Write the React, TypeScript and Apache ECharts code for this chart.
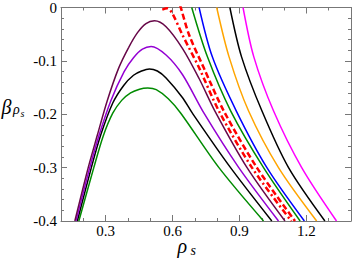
import React, { useEffect, useRef } from "react";
import * as echarts from "echarts";

// x-axis labelled ticks
const xLabelTicks = [0.3, 0.6, 0.9, 1.2];

// peaked curves (rho_s, beta)
const darkPurpleCurve = [[0.162,-0.4],[0.222,-0.300],[0.263,-0.239],[0.307,-0.175],[0.358,-0.114],[0.403,-0.075],[0.443,-0.047],[0.481,-0.030],[0.519,-0.025],[0.571,-0.036],[0.645,-0.077],[0.719,-0.133],[0.790,-0.194],[0.934,-0.300],[1.104,-0.4]];
const violetCurve = [[0.167,-0.4],[0.229,-0.300],[0.271,-0.239],[0.323,-0.175],[0.383,-0.120],[0.425,-0.094],[0.465,-0.078],[0.504,-0.073],[0.571,-0.089],[0.645,-0.126],[0.741,-0.198],[0.897,-0.300],[1.075,-0.4]];
const blackPeakCurve = [[0.173,-0.4],[0.236,-0.300],[0.278,-0.239],[0.332,-0.179],[0.381,-0.146],[0.425,-0.127],[0.461,-0.119],[0.496,-0.115],[0.532,-0.119],[0.571,-0.132],[0.645,-0.169],[0.689,-0.198],[0.860,-0.300],[1.045,-0.4]];
const greenPeakCurve = [[0.180,-0.4],[0.247,-0.300],[0.289,-0.241],[0.332,-0.198],[0.372,-0.174],[0.412,-0.160],[0.452,-0.153],[0.489,-0.151],[0.527,-0.154],[0.581,-0.171],[0.637,-0.198],[0.808,-0.300],[1.008,-0.4]];

// falling curves
const redDashDotCurve = [[0.554,-0.004],[0.576,-0.0015],[0.599,-0.011],[0.644,-0.051],[0.719,-0.113],[0.808,-0.194],[0.956,-0.300],[1.132,-0.4]];
const redDashedCurve = [[0.634,0.004],[0.637,0],[0.674,-0.051],[0.741,-0.114],[0.830,-0.194],[0.978,-0.300],[1.149,-0.4]];
const greenFallCurve = [[0.686,0],[0.756,-0.092],[0.861,-0.194],[1.008,-0.300],[1.172,-0.4]];
const blueCurve = [[0.719,0],[0.778,-0.092],[0.886,-0.194],[1.023,-0.300],[1.191,-0.4]];
const orangeCurve = [[0.798,0],[0.853,-0.092],[0.941,-0.194],[1.075,-0.300],[1.246,-0.4]];
const blackFallCurve = [[0.857,0],[0.909,-0.092],[1.001,-0.194],[1.120,-0.300],[1.283,-0.4]];
const magentaCurve = [[0.916,0],[0.964,-0.092],[1.053,-0.194],[1.179,-0.300],[1.335,-0.4]];

const AXIS_COLOR = "#777";
const FONT = "Liberation Serif";

export default function App() {
  const ref = useRef<HTMLDivElement>(null);
  useEffect(() => {
    const chart = echarts.init(ref.current!, null, { renderer: "svg" });
    const baseX = {
      type: "value",
      min: 0.1,
      max: 1.4,
      interval: 0.1,
      splitLine: { show: false },
    };
    const baseY = {
      type: "value",
      min: -0.4,
      max: 0,
      interval: 0.1,
      splitLine: { show: false },
      axisLine: { show: true, lineStyle: { color: AXIS_COLOR, width: 1 } },
      axisTick: { show: true, inside: true, length: 6, lineStyle: { color: AXIS_COLOR } },
      minorTick: { show: true, splitNumber: 5, length: 3, lineStyle: { color: AXIS_COLOR } },
    };
    const line = (data: number[][], color: string, width = 1.5, type: any = "solid") => ({
      type: "line",
      data,
      smooth: 0.3,
      symbol: "none",
      showSymbol: false,
      clip: true,
      lineStyle: { color, width, type },
      xAxisIndex: 0,
      yAxisIndex: 0,
    });
    const option: any = {
      animation: false,
      grid: { left: 61, right: 1, top: 6, bottom: 42, containLabel: false },
      xAxis: [
        {
          ...baseX,
          position: "bottom",
          axisLine: { show: true, onZero: false, lineStyle: { color: AXIS_COLOR, width: 1 } },
          axisTick: { show: true, inside: true, length: 3, lineStyle: { color: AXIS_COLOR } },
          axisLabel: {
            show: true,
            margin: 2,
            color: "#000",
            fontFamily: FONT,
            fontSize: 15,
            lineHeight: 15,
            formatter: (v: number) =>
              xLabelTicks.some((t) => Math.abs(t - v) < 1e-6) ? v.toFixed(1) : "",
          },
        },
        {
          ...baseX,
          position: "bottom",
          axisLine: { show: false, onZero: false },
          axisTick: { show: true, inside: true, length: 6, customValues: xLabelTicks, lineStyle: { color: AXIS_COLOR } },
          axisLabel: { show: false },
        },
        {
          ...baseX,
          position: "top",
          axisLine: { show: true, onZero: false, lineStyle: { color: AXIS_COLOR, width: 1 } },
          axisTick: { show: true, inside: true, length: 3, lineStyle: { color: AXIS_COLOR } },
          axisLabel: { show: false },
        },
        {
          ...baseX,
          position: "top",
          axisLine: { show: false, onZero: false },
          axisTick: { show: true, inside: true, length: 6, customValues: xLabelTicks, lineStyle: { color: AXIS_COLOR } },
          axisLabel: { show: false },
        },
      ],
      yAxis: [
        {
          ...baseY,
          position: "left",
          axisLabel: {
            show: true,
            margin: 4,
            color: "#000",
            fontFamily: FONT,
            fontSize: 15,
            formatter: (v: number) => (Math.abs(v) < 1e-9 ? "0" : v.toFixed(1)),
          },
        },
        {
          ...baseY,
          position: "right",
          axisLabel: { show: false },
        },
      ],
      graphic: [
        { type: "text", x: 1.5, y: 107.3, style: { text: "β", font: `italic 20px '${FONT}'`, lineHeight: 14, fill: "#000", verticalAlign: "middle" } },
        { type: "text", x: 13, y: 109.6, style: { text: "ρ", font: `italic 14px '${FONT}'`, lineHeight: 10, fill: "#000", verticalAlign: "middle" } },
        { type: "text", x: 20.5, y: 113.6, style: { text: "s", font: `italic 10px '${FONT}'`, lineHeight: 7, fill: "#000", verticalAlign: "middle" } },
        { type: "text", x: 177.5, y: 246, style: { text: "ρ", font: `italic 20px '${FONT}'`, lineHeight: 12, fill: "#000", verticalAlign: "middle" } },
        { type: "text", x: 190.5, y: 250.8, style: { text: "s", font: `italic 14px '${FONT}'`, lineHeight: 8, fill: "#000", verticalAlign: "middle" } },
      ],
      series: [
        line(greenPeakCurve, "#008B00"),
        line(blackPeakCurve, "#000000"),
        line(violetCurve, "#9400D3"),
        line(darkPurpleCurve, "#670748"),
        line(redDashDotCurve, "#FF0000", 2.5, [6, 3, 2, 3]),
        line(redDashedCurve, "#FF0000", 2.5, [6, 3]),
        line(greenFallCurve, "#008B00"),
        line(blueCurve, "#0000FF"),
        line(orangeCurve, "#FFA500"),
        line(blackFallCurve, "#000000"),
        line(magentaCurve, "#FF00FF"),
      ],
    };
    chart.setOption(option);
    return () => chart.dispose();
  }, []);
  return <div ref={ref} style={{ position: "absolute", left: 0, top: 0, width: 354, height: 263 }} />;
}
